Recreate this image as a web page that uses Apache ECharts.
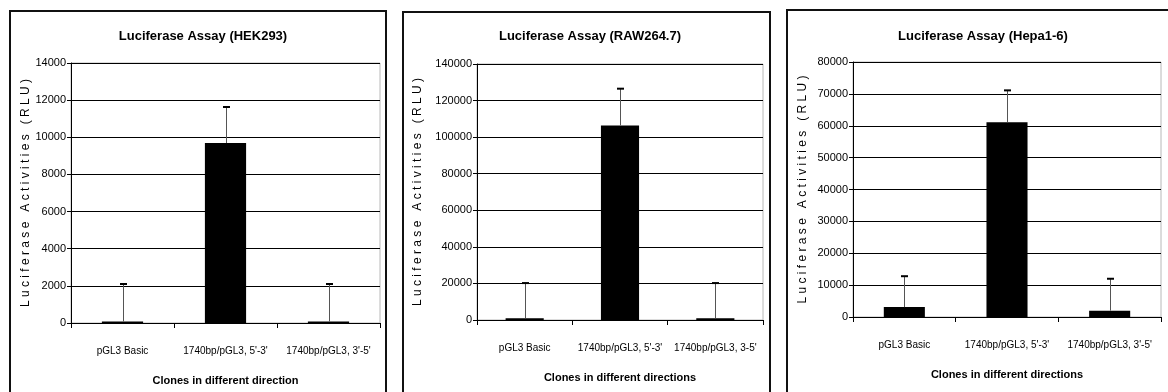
<!DOCTYPE html>
<html>
<head>
<meta charset="utf-8">
<script src="https://cdn.jsdelivr.net/npm/echarts@6/dist/echarts.min.js"></script>
<style>
  html, body { margin: 0; padding: 0; background: #fff; }
  #main { width: 1168px; height: 392px; }
</style>
</head>
<body>
<div id="main"></div>
<script>
// categories per panel
var catsHek = ["pGL3 Basic", "1740bp/pGL3, 5'-3'", "1740bp/pGL3, 3'-5'"];
var catsRaw = ["pGL3 Basic", "1740bp/pGL3, 5'-3'", "1740bp/pGL3, 3-5'"];
var catsHepa = ["pGL3 Basic", "1740bp/pGL3, 5'-3'", "1740bp/pGL3, 3'-5'"];

// mean values (RLU)
var hekMean = [80, 9690, 80];
var rawMean = [1000, 106400, 1000];
var hepaMean = [3100, 61100, 2000];

// top of error bars (mean + SD)
var hekTop = [2100, 11630, 2100];
var rawTop = [20200, 126500, 20200];
var hepaTop = [12800, 71100, 12000];

// axis ranges [min, max, step]
var hekAxis = [0, 14000, 2000];
var rawAxis = [0, 140000, 20000];
var hepaAxis = [0, 80000, 10000];

var titles = ["Luciferase Assay (HEK293)", "Luciferase Assay (RAW264.7)", "Luciferase Assay (Hepa1-6)"];
var xNames = ["Clones in different direction", "Clones in different directions", "Clones in different directions"];
var yName = "L u c i f e r a s e   A c t i v i t i e s   ( R L U )";

var FONT = "'Liberation Sans Narrow', 'Arial Narrow', 'Liberation Sans', Arial, sans-serif";

var chart = echarts.init(document.getElementById("main"));

// plot areas
var grids = [
  { left: 71, top: 63, width: 309, height: 260 },
  { left: 477, top: 64, width: 286, height: 256 },
  { left: 853, top: 62, width: 308, height: 255 },
];
var cats = [catsHek, catsRaw, catsHepa];
var means = [hekMean, rawMean, hepaMean];
var tops = [hekTop, rawTop, hepaTop];
var ranges = [hekAxis, rawAxis, hepaAxis];
var yNameGap = [38, 53, 44];
var titleX = [198, 585, 978];

var gridArr = [], xAxes = [], yAxes = [], series = [], titleArr = [];

for (var i = 0; i < 3; i++) {
  gridArr.push({
    left: grids[i].left,
    top: grids[i].top,
    width: grids[i].width,
    height: grids[i].height,
    show: true,
    borderColor: "#b8b8b8",
    borderWidth: 1,
  });
  titleArr.push({
    text: titles[i],
    left: titleX[i],
    top: 25,
    textAlign: "center",
    textStyle: { fontFamily: FONT, fontSize: 13, fontWeight: "bold", color: "#000" },
  });
  xAxes.push({
    type: "category",
    gridIndex: i,
    data: cats[i],
    name: xNames[i],
    nameLocation: "middle",
    nameGap: 52,
    nameTextStyle: { fontFamily: FONT, fontSize: 11, fontWeight: "bold", color: "#000" },
    axisLine: { show: true, lineStyle: { color: "#000", width: 1 } },
    axisTick: { show: true, length: 5, lineStyle: { color: "#000" } },
    axisLabel: { fontFamily: FONT, fontSize: 10, color: "#000", margin: 23, interval: 0 },
    splitLine: { show: false },
  });
  yAxes.push({
    type: "value",
    gridIndex: i,
    min: ranges[i][0],
    max: ranges[i][1],
    interval: ranges[i][2],
    name: yName,
    nameLocation: "middle",
    nameGap: yNameGap[i],
    nameTextStyle: { fontFamily: FONT, fontSize: 12, color: "#000" },
    axisLine: { show: true, lineStyle: { color: "#000", width: 1 } },
    axisTick: { show: true, length: 4, lineStyle: { color: "#000" } },
    axisLabel: {
      fontFamily: FONT, fontSize: 11, color: "#000", margin: 5,
      formatter: function (v) { return String(v); },
    },
    splitLine: { show: true, lineStyle: { color: "#000", width: 1 } },
  });
  series.push({
    type: "bar",
    xAxisIndex: i,
    yAxisIndex: i,
    data: means[i],
    barWidth: "40%",
    itemStyle: { color: "#000" },
    z: 3,
  });
  // error bars: upper side only
  (function (idx) {
    series.push({
      type: "custom",
      xAxisIndex: idx,
      yAxisIndex: idx,
      data: means[idx].map(function (m, k) { return [k, m, tops[idx][k]]; }),
      z: 4,
      renderItem: function (params, api) {
        var base = api.coord([api.value(0), api.value(1)]);
        var top = api.coord([api.value(0), api.value(2)]);
        var x = Math.round(base[0]) + 0.5;
        return {
          type: "group",
          children: [
            { type: "line", shape: { x1: x, y1: base[1], x2: x, y2: top[1] },
              style: { stroke: "#555", lineWidth: 1 } },
            { type: "line", shape: { x1: x - 3.5, y1: top[1], x2: x + 3.5, y2: top[1] },
              style: { stroke: "#000", lineWidth: 2 } },
          ],
        };
      },
    });
  })(i);
}

chart.setOption({
  animation: false,
  backgroundColor: "#fff",
  title: titleArr,
  grid: gridArr,
  xAxis: xAxes,
  yAxis: yAxes,
  series: series,
  graphic: [
    { type: "rect", shape: { x: 10, y: 11, width: 376, height: 400 }, style: { fill: "none", stroke: "#111", lineWidth: 2 }, silent: true },
    { type: "rect", shape: { x: 403, y: 12, width: 367, height: 400 }, style: { fill: "none", stroke: "#111", lineWidth: 2 }, silent: true },
    { type: "rect", shape: { x: 787, y: 10, width: 390, height: 400 }, style: { fill: "none", stroke: "#111", lineWidth: 2 }, silent: true },
  ],
});
</script>
</body>
</html>
